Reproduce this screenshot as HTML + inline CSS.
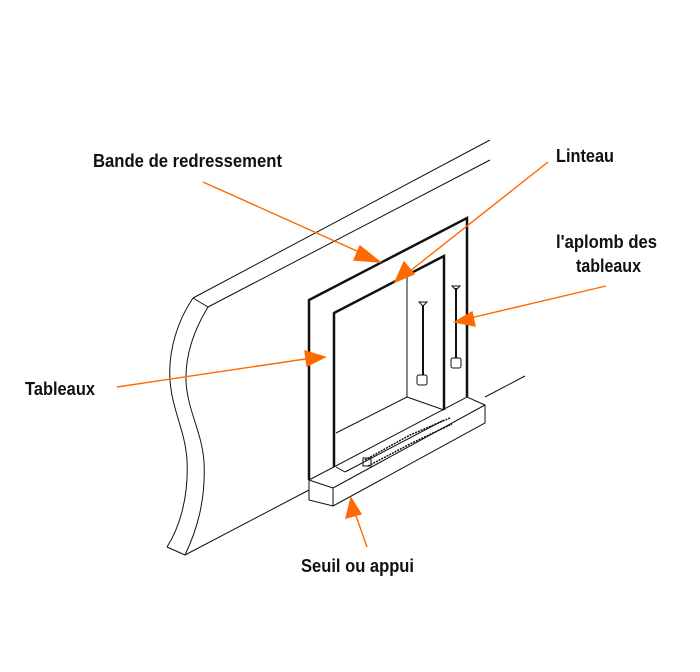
<!DOCTYPE html>
<html><head><style>
html,body{margin:0;padding:0;background:#fff;}
svg{display:block;}
text{font-family:"Liberation Sans",sans-serif;font-size:18px;font-weight:bold;fill:#111;}
</style></head><body>
<svg width="700" height="672" viewBox="0 0 700 672" xmlns="http://www.w3.org/2000/svg">
<g fill="none" stroke="#111" stroke-width="1">
<line x1="193" y1="298" x2="490" y2="140"/>
<line x1="208" y1="307" x2="490" y2="160"/>
<line x1="193" y1="298" x2="208" y2="307"/>
<path d="M193,298 C178,320 168,350 170,380 C172,410 185,430 187,460 C189,500 178,530 167,547"/>
<path d="M208,307 C194,330 185,355 186,382 C188,412 202,432 204,462 C206,502 196,532 185,555"/>
<line x1="167" y1="547" x2="185" y2="555"/>
<line x1="185" y1="555" x2="309" y2="490"/>
<line x1="485" y1="397" x2="525" y2="376"/>
</g>
<g fill="none" stroke="#111" stroke-width="2.5">
<polyline points="309,480 309,300 467,218 467,397"/>
<polyline points="334,467 334,313 444,256 444,410"/>
</g>
<g fill="none" stroke="#111" stroke-width="1">
<line x1="407" y1="277" x2="407" y2="397"/>
<line x1="407" y1="397" x2="444" y2="410"/>
<line x1="407" y1="397" x2="336" y2="433"/>
<polygon points="309,480 333,488 333,506 309,500"/>
<polyline points="309,480 467,397 485,405 485,423 333,506"/>
<line x1="333" y1="488" x2="485" y2="405"/>
<line x1="336" y1="467" x2="345" y2="472"/>
<line x1="345" y1="472" x2="444" y2="420"/>
<path d="M365,460 L410,435 L450,418 M368,466 L412,443 L452,424" stroke-dasharray="2,1" stroke-width="1.5"/>
<rect x="363" y="458" width="8" height="8"/>
<line x1="423" y1="305" x2="423" y2="375" stroke-width="2"/>
<path d="M419,302 L427,302 L423,306 Z"/>
<rect x="417" y="375" width="10" height="10" rx="2"/>
<line x1="456" y1="288" x2="456" y2="358" stroke-width="2"/>
<path d="M452,286 L460,286 L456,290 Z"/>
<rect x="451" y="358" width="10" height="10" rx="2"/>
</g>
<g stroke="#ff6a00" stroke-width="1.4" fill="#ff6a00">
<line x1="203" y1="182" x2="368" y2="256"/>
<polygon points="380,262 360,246 354,260"/>
<line x1="548" y1="162" x2="405" y2="275"/>
<polygon points="395,282 404,262 414,274"/>
<line x1="606" y1="286" x2="466" y2="319"/>
<polygon points="455,322 472,312 475,326"/>
<line x1="117" y1="387" x2="312" y2="358"/>
<polygon points="325,357 305,351 307,366"/>
<line x1="367" y1="547" x2="354" y2="510"/>
<polygon points="351,498 346,518 361,514"/>
</g>
<g>
<text x="93" y="167" textLength="189" lengthAdjust="spacingAndGlyphs">Bande de redressement</text>
<text x="556" y="162" textLength="58" lengthAdjust="spacingAndGlyphs">Linteau</text>
<text x="556" y="248" textLength="101" lengthAdjust="spacingAndGlyphs">l'aplomb des</text>
<text x="576" y="272" textLength="65" lengthAdjust="spacingAndGlyphs">tableaux</text>
<text x="25" y="395" textLength="70" lengthAdjust="spacingAndGlyphs">Tableaux</text>
<text x="301" y="572" textLength="113" lengthAdjust="spacingAndGlyphs">Seuil ou appui</text>
</g>
</svg>
</body></html>
